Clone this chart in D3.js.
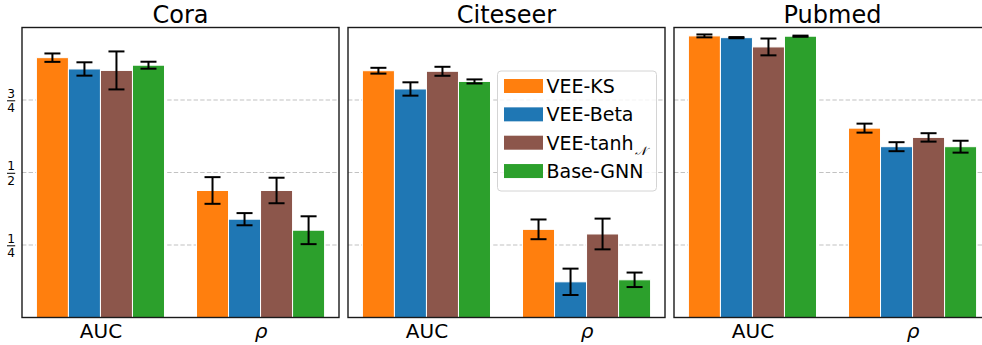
<!DOCTYPE html>
<html>
<head>
<meta charset="utf-8">
<script src="https://cdn.jsdelivr.net/npm/d3@7/dist/d3.min.js"></script>
<style>
  html, body { margin: 0; padding: 0; background: #fff; }
  svg { display: block; font-family: "DejaVu Sans", sans-serif; }
</style>
</head>
<body>
<svg id="chart" width="982" height="345"></svg>
<script>
// Datasets, metrics and methods
const datasets = ["Cora", "Citeseer", "Pubmed"];
const metrics = ["AUC", "ρ"];
const methods = ["VEE-KS", "VEE-Beta", "VEE-tanh", "Base-GNN"];
const colors = ["#ff7f0e", "#1f77b4", "#8c564b", "#2ca02c"];

// Mean scores per method (order as in `methods`)
const coraAUC = [0.896, 0.857, 0.852, 0.870];
const coraRho = [0.438, 0.339, 0.438, 0.301];
const citeseerAUC = [0.851, 0.788, 0.849, 0.814];
const citeseerRho = [0.304, 0.123, 0.288, 0.130];
const pubmedAUC = [0.971, 0.965, 0.933, 0.970];
const pubmedRho = [0.653, 0.589, 0.621, 0.589];

// Standard deviations (error bars)
const coraAUCErr = [0.0145, 0.023, 0.0655, 0.012];
const coraRhoErr = [0.046, 0.021, 0.044, 0.048];
const citeseerAUCErr = [0.010, 0.023, 0.0155, 0.007];
const citeseerRhoErr = [0.034, 0.0455, 0.053, 0.025];
const pubmedAUCErr = [0.005, 0.002, 0.029, 0.002];
const pubmedRhoErr = [0.0155, 0.0155, 0.0145, 0.0205];

// Y tick values and their fraction labels [numerator, denominator]
const yTicks = [0.25, 0.5, 0.75];
const yTickLabels = [["1", "4"], ["1", "2"], ["3", "4"]];

const panelMeans = [[coraAUC, coraRho], [citeseerAUC, citeseerRho], [pubmedAUC, pubmedRho]];
const panelErrs = [[coraAUCErr, coraRhoErr], [citeseerAUCErr, citeseerRhoErr], [pubmedAUCErr, pubmedRhoErr]];

const svg = d3.select("#chart");
const plotTop = 27.5, plotBottom = 317.5;
const panelLeft = [22, 348, 674];
const panelWidth = 317;
const barW = 0.2;
const offsets = [-0.3, -0.1, 0.1, 0.3];

const y = d3.scaleLinear().domain([0, 1]).range([plotBottom, plotTop]);

datasets.forEach((name, pi) => {
  const x0 = panelLeft[pi], x1 = x0 + panelWidth;
  const x = d3.scaleLinear().domain([-0.49, 1.49]).range([x0, x1]);
  const g = svg.append("g");

  // dashed horizontal grid
  g.selectAll("line.grid").data(yTicks).join("line")
    .attr("class", "grid")
    .attr("x1", x0).attr("x2", x1)
    .attr("y1", d => y(d)).attr("y2", d => y(d))
    .attr("stroke", "#c2c2c2").attr("stroke-width", 1.1)
    .attr("stroke-dasharray", "4.4,2.2");

  // bars
  const rows = [];
  metrics.forEach((m, mi) => {
    methods.forEach((meth, k) => {
      rows.push({ xc: mi + offsets[k], v: panelMeans[pi][mi][k], e: panelErrs[pi][mi][k], c: colors[k] });
    });
  });

  g.selectAll("rect.bar").data(rows).join("rect")
    .attr("class", "bar")
    .attr("x", d => x(d.xc - barW / 2))
    .attr("width", d => x(d.xc + barW / 2) - x(d.xc - barW / 2))
    .attr("y", d => y(d.v))
    .attr("height", d => y(0) - y(d.v))
    .attr("fill", d => d.c)
    .attr("stroke", "#fff").attr("stroke-width", 1);

  // error bars
  const eb = g.selectAll("g.err").data(rows).join("g").attr("class", "err")
    .attr("stroke", "#000").attr("stroke-width", 2);
  eb.append("line")
    .attr("x1", d => x(d.xc)).attr("x2", d => x(d.xc))
    .attr("y1", d => y(d.v - d.e)).attr("y2", d => y(d.v + d.e));
  eb.append("line")
    .attr("x1", d => x(d.xc) - 8).attr("x2", d => x(d.xc) + 8)
    .attr("y1", d => y(d.v - d.e)).attr("y2", d => y(d.v - d.e));
  eb.append("line")
    .attr("x1", d => x(d.xc) - 8).attr("x2", d => x(d.xc) + 8)
    .attr("y1", d => y(d.v + d.e)).attr("y2", d => y(d.v + d.e));

  // frame
  g.append("rect")
    .attr("x", x0).attr("y", plotTop)
    .attr("width", panelWidth).attr("height", plotBottom - plotTop)
    .attr("fill", "none").attr("stroke", "#1a1a1a").attr("stroke-width", 1.4);

  // title
  g.append("text")
    .attr("x", (x0 + x1) / 2).attr("y", 22.5)
    .attr("text-anchor", "middle").attr("font-size", 24).attr("fill", "#000")
    .text(name);

  // x axis labels
  const xAxis = d3.axisBottom(x).tickValues([0, 1]).tickSize(0).tickFormat((d, i) => metrics[i]);
  const xa = g.append("g").attr("transform", `translate(0,${plotBottom})`).call(xAxis);
  xa.select(".domain").remove();
  xa.selectAll("text")
    .attr("y", 0).attr("dy", null)
    .attr("transform", "translate(0,20.5)")
    .attr("font-size", 20).attr("font-family", "DejaVu Sans").attr("fill", "#000")
    .attr("font-style", (d, i) => i === 1 ? "italic" : "normal");

  // y axis with stacked fraction labels on the first panel
  if (pi === 0) {
    const yAxis = d3.axisLeft(y).tickValues(yTicks).tickSize(0).tickFormat("");
    const ya = g.append("g").attr("transform", `translate(${x0},0)`).call(yAxis);
    ya.select(".domain").remove();
    ya.selectAll(".tick").each(function (d, i) {
      const t = d3.select(this);
      const lab = yTickLabels[i];
      t.append("text").attr("x", -10.9).attr("y", -2.6).attr("text-anchor", "middle")
        .attr("font-size", 12.2).attr("font-family", "DejaVu Sans").attr("fill", "#000").text(lab[0]);
      t.append("line").attr("x1", -15).attr("x2", -6.8).attr("y1", 0.3).attr("y2", 0.3)
        .attr("stroke", "#000").attr("stroke-width", 1);
      t.append("text").attr("x", -10.9).attr("y", 11.6).attr("text-anchor", "middle")
        .attr("font-size", 12.2).attr("font-family", "DejaVu Sans").attr("fill", "#000").text(lab[1]);
    });
  }

  // legend in the middle panel
  if (pi === 1) {
    const lg = g.append("g").attr("transform", "translate(497.5,71)");
    lg.append("rect").attr("width", 159).attr("height", 120).attr("rx", 3.5)
      .attr("fill", "#fff").attr("fill-opacity", 0.8)
      .attr("stroke", "#d4d4d4").attr("stroke-width", 1);
    const items = lg.selectAll("g.item").data(methods).join("g").attr("class", "item")
      .attr("transform", (d, i) => `translate(0,${15 + i * 28.35})`);
    items.append("rect").attr("x", 6.5).attr("y", -7).attr("width", 39).attr("height", 14)
      .attr("fill", (d, i) => colors[i]);
    const txt = items.append("text").attr("x", 49).attr("y", 7)
      .attr("font-size", 19).attr("fill", "#000")
      .text(d => d);
    txt.filter((d, i) => i === 2).append("tspan")
      .attr("dy", 5).attr("dx", 1).attr("font-size", 12)
      .attr("font-style", "italic").attr("font-family", "DejaVu Serif")
      .text("𝒩");
  }
});
</script>
</body>
</html>
